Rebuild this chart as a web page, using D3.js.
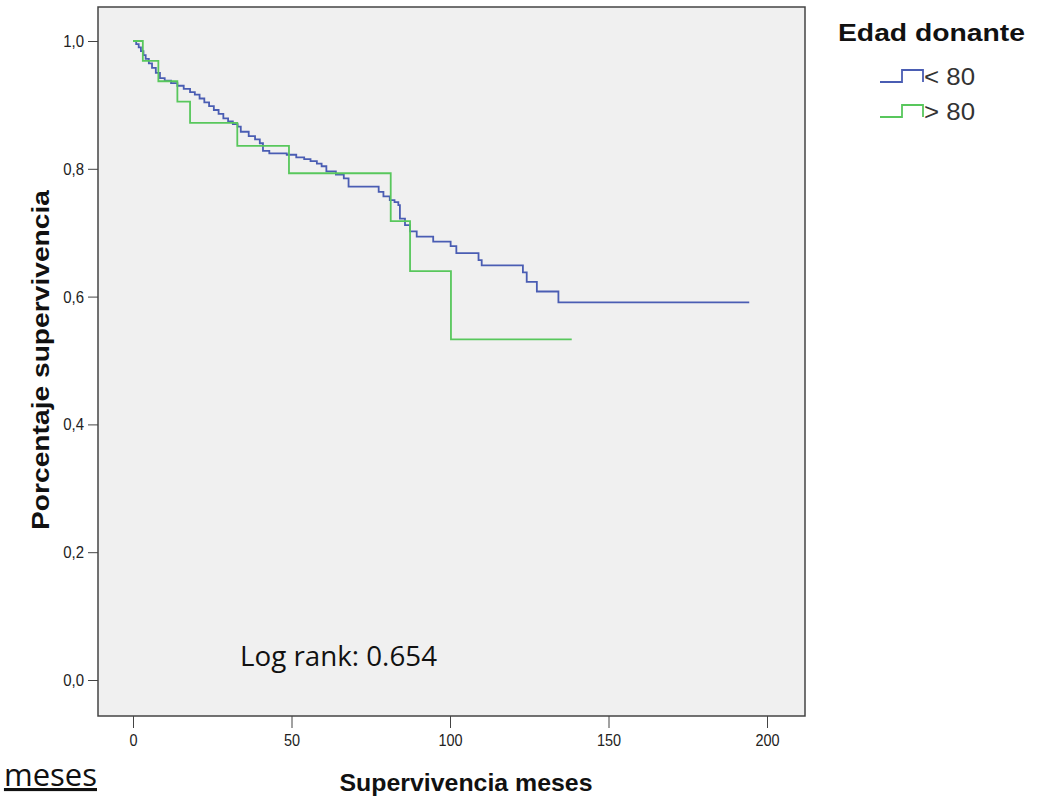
<!DOCTYPE html>
<html><head><meta charset="utf-8">
<script src="https://cdn.jsdelivr.net/npm/d3@7"></script>
<style>body{margin:0;background:#fff}svg{display:block}</style>
</head><body>
<svg id="c" width="1055" height="798"></svg>
<script>
// Data (months, survival after the drop)
const blueTimes = [0,1.0,1.8,2.5,3.3,4.0,5.0,6.0,7.2,8.5,10.0,12.0,14.0,16.0,18.0,19.5,21.0,22.5,24.0,25.5,27.0,28.5,30.0,31.5,33.0,34.0,36.5,38.5,40.0,41.0,43.0,48.5,51.5,54.0,56.0,58.0,59.5,61.0,64.0,66.5,68.0,77.5,79.0,81.0,82.5,83.7,84.2,85.8,87.4,89.5,94.7,100.2,102.0,109.0,110.0,123.0,124.2,127.4,134.2];
const blueSurv  = [1.000,0.995,0.990,0.984,0.978,0.972,0.965,0.958,0.950,0.942,0.938,0.934,0.930,0.925,0.920,0.916,0.910,0.904,0.898,0.892,0.886,0.879,0.874,0.870,0.866,0.858,0.851,0.846,0.840,0.828,0.824,0.822,0.818,0.815,0.812,0.808,0.804,0.796,0.791,0.785,0.772,0.764,0.757,0.751,0.748,0.743,0.722,0.712,0.702,0.694,0.686,0.679,0.668,0.657,0.649,0.638,0.623,0.608,0.591];
const blueEnd = 194.4;
const greenTimes = [0,3.1,8.0,14.0,18.0,32.9,49.2,81.3,87.4,100.3];
const greenSurv  = [1.000,0.969,0.937,0.905,0.872,0.836,0.793,0.718,0.640,0.533];
const greenEnd = 138.4;
const seriesNames = ["< 80","> 80"];
const xTicks = [0,50,100,150,200];
const yTicks = [0,0.2,0.4,0.6,0.8,1.0];

const svg = d3.select("#c");
const L=98,T=7,R=805,B=716;
const x = d3.scaleLinear().domain([0,200]).range([133,767]);
const y = d3.scaleLinear().domain([0,1]).range([680,41]);
const colors = ["#4a5db3","#58c75c"];
const SANS = "Liberation Sans, Arial";

svg.append("rect").attr("x",L).attr("y",T).attr("width",R-L).attr("height",B-T)
  .attr("fill","#f0f0f0");

function stepData(times,surv,end){
  const pts = times.map((t,i)=>[t,surv[i]]);
  pts.push([end,surv[surv.length-1]]);
  return pts;
}
const line = d3.line().x(d=>x(d[0])).y(d=>y(d[1])).curve(d3.curveStepAfter);
[[blueTimes,blueSurv,blueEnd],[greenTimes,greenSurv,greenEnd]].forEach((s,i)=>{
  svg.append("path").datum(stepData(...s)).attr("d",line)
    .attr("fill","none").attr("stroke",colors[i]).attr("stroke-width",1.8);
});

svg.append("rect").attr("x",L).attr("y",T).attr("width",R-L).attr("height",B-T)
  .attr("fill","none").attr("stroke","#444").attr("stroke-width",1.5);

function narrow(sel, f){
  sel.each(function(){
    const w = this.getComputedTextLength();
    d3.select(this).attr("textLength", w*f).attr("lengthAdjust","spacingAndGlyphs");
  });
}

// Y axis
const fmt = d=>d3.format(".1f")(d).replace(".",",");
const yAx = svg.append("g").attr("transform",`translate(${L},0)`)
  .call(d3.axisLeft(y).tickValues(yTicks).tickFormat(fmt).tickSize(10).tickPadding(4));
yAx.select(".domain").remove();
yAx.selectAll("line").attr("stroke","#444");
yAx.selectAll("text").attr("font-family",SANS).attr("font-size",17).attr("fill","#222");
narrow(yAx.selectAll("text"),0.88);

// X axis
const xAx = svg.append("g").attr("transform",`translate(0,${B})`)
  .call(d3.axisBottom(x).tickValues(xTicks).tickFormat(d3.format("d")).tickSize(12).tickPadding(6));
xAx.select(".domain").remove();
xAx.selectAll("line").attr("stroke","#444");
xAx.selectAll("text").attr("font-family",SANS).attr("font-size",17).attr("fill","#222");
narrow(xAx.selectAll("text"),0.85);

// Titles
svg.append("text").attr("x",466).attr("y",791).attr("text-anchor","middle")
  .attr("font-family",SANS).attr("font-weight","bold").attr("font-size",24)
  .attr("textLength",253).attr("lengthAdjust","spacingAndGlyphs")
  .attr("fill","#111").text("Supervivencia meses");
svg.append("text").attr("transform","translate(49,360) rotate(-90)").attr("text-anchor","middle")
  .attr("font-family",SANS).attr("font-weight","bold").attr("font-size",24)
  .attr("textLength",340).attr("lengthAdjust","spacingAndGlyphs")
  .attr("fill","#111").text("Porcentaje supervivencia");

// Log rank
svg.append("text").attr("x",240).attr("y",666)
  .attr("font-family","Open Sans, Liberation Sans").attr("font-size",27).attr("fill","#111")
  .attr("textLength",197).attr("lengthAdjust","spacingAndGlyphs")
  .text("Log rank: 0.654");

// Fragment on left
svg.append("text").attr("x",97).attr("y",786).attr("text-anchor","end")
  .attr("font-family","Open Sans, Liberation Sans").attr("font-size",31).attr("fill","#111")
  .attr("text-decoration","underline").text("meses");

// Legend
svg.append("text").attr("x",838).attr("y",41)
  .attr("font-family",SANS).attr("font-weight","bold").attr("font-size",24)
  .attr("textLength",187).attr("lengthAdjust","spacingAndGlyphs")
  .attr("fill","#111").text("Edad donante");
seriesNames.forEach((n,i)=>{
  const yy = 82 + i*35;
  const g = svg.append("g").attr("transform",`translate(880,${yy})`);
  g.append("path").attr("d","M0,0 H22 V-12 H43 V0").attr("fill","none")
    .attr("stroke",colors[i]).attr("stroke-width",1.8);
  g.append("text").attr("x",44).attr("y",3)
    .attr("font-family",SANS).attr("font-size",23).attr("fill","#333")
    .attr("textLength",51).attr("lengthAdjust","spacingAndGlyphs").text(n);
});
</script>
</body></html>
